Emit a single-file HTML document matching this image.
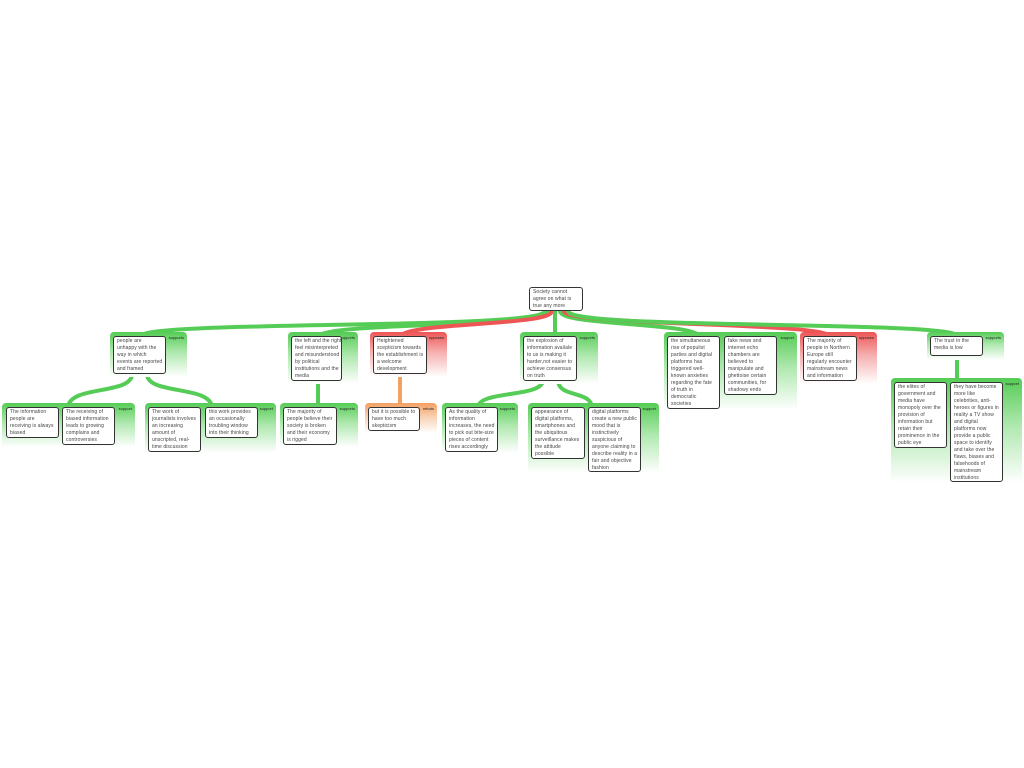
<!DOCTYPE html>
<html><head><meta charset="utf-8"><style>
body{margin:0;width:1024px;height:768px;background:#fff;position:relative;overflow:hidden;font-family:"Liberation Sans",sans-serif}
.c{position:absolute;border-radius:4px 4px 0 0}
.g{background:linear-gradient(to bottom,#55cc55 0%,#aee8ae 45%,#fff 100%)}
.r{background:linear-gradient(to bottom,#ee5555 0%,#f6b0b0 45%,#fff 100%)}
.o{background:linear-gradient(to bottom,#f4a060 0%,#f8d0b0 45%,#fff 100%)}
.l{position:absolute;top:3px;right:3px;font-size:4px;color:#222}
.b{position:absolute;background:#fff;border:1.5px solid #333;border-radius:3px;font-size:5px;letter-spacing:0.1px;line-height:7px;color:#444;padding:1px 3px;box-sizing:border-box;white-space:nowrap;overflow:hidden}
svg{position:absolute;left:0;top:0}
</style></head><body>
<svg width="1024" height="768">
<g fill="none" stroke-linecap="round">
<path d="M545 311 C545 330 150 320 140 336" stroke="#55cc55" stroke-width="4"/>
<path d="M548 311 C548 328 330 322 318 336" stroke="#55cc55" stroke-width="4"/>
<path d="M552 311 C552 326 410 322 400 336" stroke="#ee5555" stroke-width="4"/>
<path d="M555 311 L555 336" stroke="#55cc55" stroke-width="4"/>
<path d="M560 311 C560 326 690 322 700 336" stroke="#55cc55" stroke-width="4"/>
<path d="M564 311 C564 326 820 322 830 336" stroke="#ee5555" stroke-width="4"/>
<path d="M568 311 C568 330 950 320 958 336" stroke="#55cc55" stroke-width="4"/>
<path d="M132 374 C132 395 70 385 68 407" stroke="#55cc55" stroke-width="4"/>
<path d="M147 374 C147 395 210 385 212 407" stroke="#55cc55" stroke-width="4"/>
<path d="M318 380 L318 407" stroke="#55cc55" stroke-width="4"/>
<path d="M400 374 L400 407" stroke="#f4a060" stroke-width="4"/>
<path d="M543 380 C543 398 480 390 478 407" stroke="#55cc55" stroke-width="4"/>
<path d="M558 380 C558 398 590 390 592 407" stroke="#55cc55" stroke-width="4"/>
<path d="M957 356 L957 382" stroke="#55cc55" stroke-width="4"/>
</g></svg>

<div class="b" style="left:529px;top:287px;width:54px;height:24px">Society cannot<br>agree on what is<br>true any more</div>

<div class="c g" style="left:110px;top:332px;width:77px;height:45px"><span class="l">supports</span></div>
<div class="b" style="left:113px;top:336px;width:53px;height:38px">people are<br>unhappy with the<br>way in which<br>events are reported<br>and framed</div>

<div class="c g" style="left:288px;top:332px;width:70px;height:52px"><span class="l">supports</span></div>
<div class="b" style="left:291px;top:336px;width:51px;height:45px">the left and the right<br>feel misinterpreted<br>and misunderstood<br>by political<br>institutions and the<br>media</div>

<div class="c r" style="left:370px;top:332px;width:77px;height:45px"><span class="l">opposes</span></div>
<div class="b" style="left:373px;top:336px;width:54px;height:38px">Heightened<br>scepticism towards<br>the establishment is<br>a welcome<br>development</div>

<div class="c g" style="left:520px;top:332px;width:78px;height:52px"><span class="l">supports</span></div>
<div class="b" style="left:523px;top:336px;width:54px;height:45px">the explosion of<br>information availale<br>to us is making it<br>harder,not easier to<br>achieve consensus<br>on truth</div>

<div class="c g" style="left:664px;top:332px;width:133px;height:78px"><span class="l">support</span></div>
<div class="b" style="left:667px;top:336px;width:53px;height:73px">the simultaneous<br>rise of populist<br>parties and digital<br>platforms has<br>triggered well-<br>known anxieties<br>regarding the fate<br>of truth in<br>democratic<br>societies</div>
<div class="b" style="left:724px;top:336px;width:53px;height:59px">fake news and<br>internet echo<br>chambers are<br>believed to<br>manipulate and<br>ghettoise certain<br>communities, for<br>shadowy ends</div>

<div class="c r" style="left:800px;top:332px;width:77px;height:52px"><span class="l">opposes</span></div>
<div class="b" style="left:803px;top:336px;width:54px;height:45px">The majority of<br>people in Northern<br>Europe still<br>regularly encounter<br>mainstream news<br>and information</div>

<div class="c g" style="left:927px;top:332px;width:77px;height:28px"><span class="l">supports</span></div>
<div class="b" style="left:930px;top:336px;width:53px;height:20px">The trust in the<br>media is low</div>

<div class="c g" style="left:2px;top:403px;width:133px;height:44px"><span class="l">support</span></div>
<div class="b" style="left:6px;top:407px;width:53px;height:31px">The information<br>people are<br>receiving is always<br>biased</div>
<div class="b" style="left:62px;top:407px;width:53px;height:38px">The receiving of<br>biased information<br>leads to growing<br>complains and<br>controversies</div>

<div class="c g" style="left:145px;top:403px;width:131px;height:50px"><span class="l">support</span></div>
<div class="b" style="left:148px;top:407px;width:53px;height:45px">The work of<br>journalists involves<br>an increasing<br>amount of<br>unscripted, real-<br>time discussion</div>
<div class="b" style="left:205px;top:407px;width:53px;height:31px">this work provides<br>an occasionally<br>troubling window<br>into their thinking</div>

<div class="c g" style="left:280px;top:403px;width:78px;height:44px"><span class="l">supports</span></div>
<div class="b" style="left:283px;top:407px;width:54px;height:38px">The majority of<br>people believe their<br>society is broken<br>and their economy<br>is rigged</div>

<div class="c o" style="left:365px;top:403px;width:72px;height:30px"><span class="l">rebuts</span></div>
<div class="b" style="left:368px;top:407px;width:52px;height:24px">but it is possible to<br>have too much<br>skepticism</div>

<div class="c g" style="left:442px;top:403px;width:76px;height:50px"><span class="l">supports</span></div>
<div class="b" style="left:445px;top:407px;width:53px;height:45px">As the quality of<br>information<br>increases, the need<br>to pick out bite-size<br>pieces of content<br>rises accordingly</div>

<div class="c g" style="left:528px;top:403px;width:131px;height:70px"><span class="l">support</span></div>
<div class="b" style="left:531px;top:407px;width:54px;height:52px">appearance of<br>digital platforms,<br>smartphones and<br>the ubiquitous<br>surveillance makes<br>the attitude<br>possible</div>
<div class="b" style="left:588px;top:407px;width:53px;height:65px">digital platforms<br>create a new public<br>mood that is<br>instinctively<br>suspicious of<br>anyone claiming to<br>describe reality in a<br>fair and objective<br>fashion</div>

<div class="c g" style="left:891px;top:378px;width:131px;height:105px"><span class="l">support</span></div>
<div class="b" style="left:894px;top:382px;width:53px;height:66px">the elites of<br>government and<br>media have<br>monopoly over the<br>provision of<br>information but<br>retain their<br>prominence in the<br>public eye</div>
<div class="b" style="left:950px;top:382px;width:53px;height:100px">they have become<br>more like<br>celebrities, anti-<br>heroes or figures in<br>reality a TV show<br>and digital<br>platforms now<br>provide a public<br>space to identify<br>and take over the<br>flaws, biases and<br>falsehoods of<br>mainstream<br>institutions</div>
</body></html>
